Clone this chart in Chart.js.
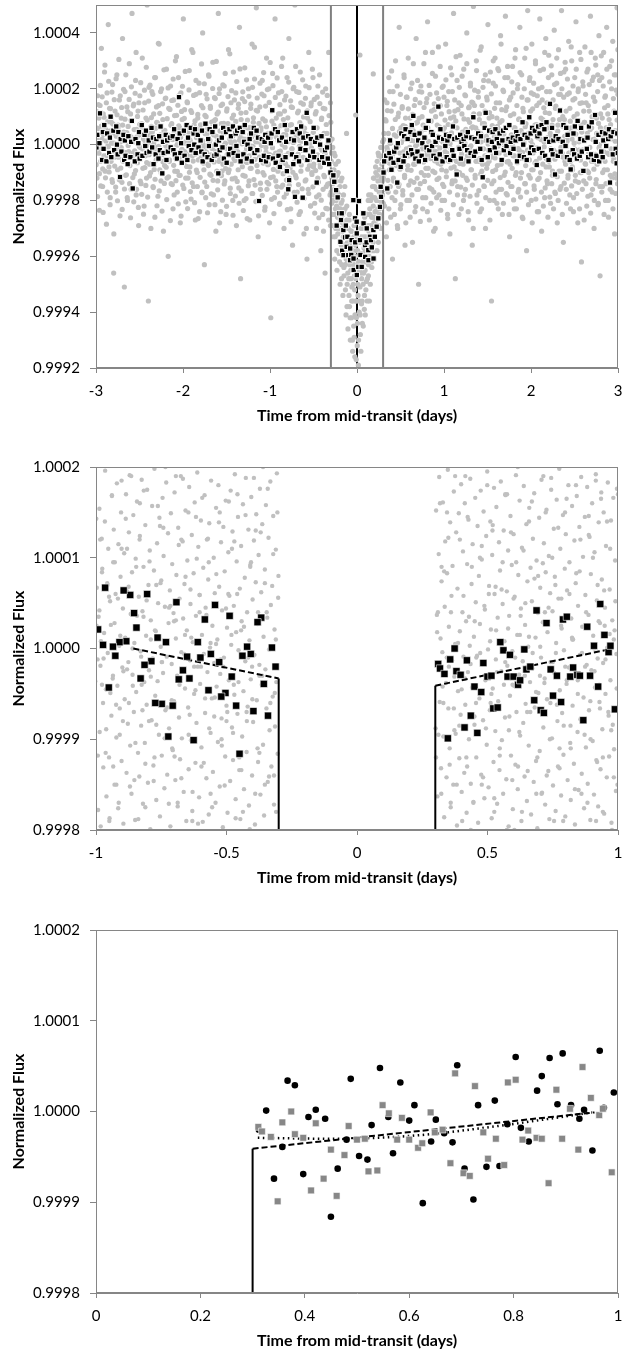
<!DOCTYPE html>
<html lang="en">
<head>
<meta charset="UTF-8">
<title>Transit light curve</title>
<script src="https://cdn.jsdelivr.net/npm/chart.js"></script>
<style>
  body { margin: 0; background: #fff; }
  .painel { position: absolute; left: 0; width: 630px; }
</style>
</head>
<body>
<div class="painel" style="top:0"><canvas id="grafico1" width="630" height="440"></canvas></div>
<div class="painel" style="top:440px"><canvas id="grafico2" width="630" height="450"></canvas></div>
<div class="painel" style="top:890px"><canvas id="grafico3" width="630" height="460"></canvas></div>

<script>
// axis ticks
const xTicks1 = [-3, -2, -1, 0, 1, 2, 3];
const yTicks1 = [0.9992, 0.9994, 0.9996, 0.9998, 1.0000, 1.0002, 1.0004];
const xTicks2 = [-1, -0.5, 0, 0.5, 1];
const xTicks3 = [0, 0.2, 0.4, 0.6, 0.8, 1];
const yTicks23 = [0.9998, 0.9999, 1.0000, 1.0001, 1.0002];

// unbinned flux: [time in 0.001 d, flux offset in ppm]
const rawWide = [
[-2996,60],[-2989,-120],[-2982,175],[-2974,-15],[-2967,95],[-2961,-235],[-2953,140],[-2946,-60],[-2938,345],[-2931,20],[-2924,-150],[-2917,110],[-2909,-40],[-2902,260],[-2895,-95],[-2888,55],[-2880,-285],[-2873,185],[-2866,-5],[-2859,430],[-2851,-80],[-2844,130],[-2837,-190],[-2830,35],[-2823,80],[-2816,-125],[-2809,215],[-2802,-30],[-2797,-460],[-2793,5],
[-2788,-45],[-2781,120],[-2774,-170],[-2767,30],[-2760,250],[-2752,-90],[-2745,70],[-2738,-20],[-2731,160],[-2724,-255],[-2717,10],[-2710,95],[-2702,-135],[-2695,380],[-2688,-60],[-2681,45],[-2674,-510],[-2667,190],[-2660,-110],[-2652,15],[-2645,135],[-2638,-200],[-2631,65],[-2624,-25],[-2617,290],[-2610,-75],[-2603,110],[-2596,-160],[-2590,25],[-2586,470],
[-2580,85],[-2573,-30],[-2566,145],[-2559,-105],[-2552,10],[-2545,230],[-2538,-180],[-2531,55],[-2524,-65],[-2517,120],[-2510,-290],[-2503,35],[-2496,175],[-2489,-10],[-2482,-140],[-2475,75],[-2468,310],[-2461,-85],[-2454,20],[-2447,-220],[-2440,150],[-2433,-40],[-2426,95],[-2419,-120],[-2412,500],[-2405,0],[-2398,-560],[-2391,205],[-2384,-70],[-2378,40],
[-2372,-100],[-2365,65],[-2358,190],[-2351,-25],[-2344,-150],[-2337,110],[-2330,15],[-2323,-260],[-2316,240],[-2309,-55],[-2302,80],[-2295,-10],[-2288,-185],[-2281,140],[-2274,360],[-2267,-90],[-2260,35],[-2253,-130],[-2246,200],[-2239,-35],[-2232,90],[-2225,-310],[-2218,50],[-2211,-75],[-2204,165],[-2197,-5],[-2190,270],[-2183,-120],[-2176,25],[-2170,-400],
[-2164,130],[-2157,-60],[-2150,20],[-2143,210],[-2136,-140],[-2129,75],[-2122,-15],[-2115,-230],[-2108,160],[-2101,40],[-2094,-95],[-2087,300],[-2080,-50],[-2073,105],[-2066,-170],[-2059,5],[-2052,240],[-2045,-110],[-2038,60],[-2031,-280],[-2024,185],[-2017,-20],[-2010,90],[-2003,-145],[-1996,450],[-1989,-65],[-1982,125],[-1975,10],[-1968,-205],[-1962,70],
[-1956,-35],[-1949,150],[-1942,-120],[-1935,45],[-1928,265],[-1921,-80],[-1914,10],[-1907,-195],[-1900,115],[-1893,-40],[-1886,330],[-1879,-150],[-1872,70],[-1865,-20],[-1858,-270],[-1851,180],[-1844,25],[-1837,-100],[-1830,95],[-1823,-55],[-1816,220],[-1809,-240],[-1802,55],[-1795,-10],[-1788,140],[-1781,-170],[-1774,400],[-1767,0],[-1760,-90],[-1754,-430],
[-1748,105],[-1741,-25],[-1734,180],[-1727,-150],[-1720,40],[-1713,-70],[-1706,250],[-1699,-215],[-1692,15],[-1685,130],[-1678,-110],[-1671,60],[-1664,-5],[-1657,295],[-1650,-180],[-1643,85],[-1636,-40],[-1629,165],[-1622,-310],[-1615,30],[-1608,110],[-1601,-130],[-1594,470],[-1587,-60],[-1580,200],[-1573,-20],[-1566,-240],[-1559,75],[-1552,-95],[-1546,145],
[-1540,-70],[-1533,40],[-1526,210],[-1519,-130],[-1512,5],[-1505,-250],[-1498,120],[-1491,-35],[-1484,75],[-1477,340],[-1470,-90],[-1463,20],[-1456,-175],[-1449,150],[-1442,-15],[-1435,95],[-1428,-200],[-1421,260],[-1414,-50],[-1407,10],[-1400,-120],[-1393,185],[-1386,-290],[-1379,55],[-1372,-25],[-1365,130],[-1358,-155],[-1351,420],[-1344,30],[-1338,-480],
[-1332,90],[-1325,-45],[-1318,165],[-1311,-110],[-1304,20],[-1297,-200],[-1290,275],[-1283,-60],[-1276,115],[-1269,-15],[-1262,-265],[-1255,60],[-1248,200],[-1241,-130],[-1234,35],[-1227,-85],[-1220,145],[-1213,-5],[-1206,360],[-1199,-175],[-1192,80],[-1185,-30],[-1178,235],[-1171,-145],[-1164,10],[-1157,490],[-1150,-75],[-1143,120],[-1136,-330],[-1130,50],
[-1124,-20],[-1117,135],[-1110,-160],[-1103,60],[-1096,-50],[-1089,230],[-1082,-100],[-1075,15],[-1068,175],[-1061,-235],[-1054,85],[-1047,-10],[-1040,310],[-1033,-135],[-1026,40],[-1019,-70],[-1012,200],[-1005,-280],[-998,25],[-991,-620],[-984,120],[-977,-40],[-970,255],[-963,-115],[-956,70],[-949,-190],[-942,450],[-935,-30],[-928,95],[-922,-150],
[-916,55],[-909,-95],[-902,185],[-895,-25],[-888,-210],[-881,110],[-874,-60],[-867,280],[-860,0],[-853,-145],[-846,90],[-839,-300],[-832,160],[-825,-40],[-818,35],[-811,-175],[-804,240],[-797,-80],[-790,10],[-783,380],[-776,-120],[-769,70],[-762,-230],[-755,135],[-748,-15],[-741,-360],[-734,200],[-727,-65],[-720,45],[-714,500],
[-708,-110],[-701,30],[-694,190],[-687,-170],[-680,-40],[-673,120],[-666,-250],[-659,15],[-652,260],[-645,-95],[-638,65],[-631,-190],[-624,-20],[-617,145],[-610,-320],[-603,40],[-596,-130],[-589,210],[-582,-55],[-575,-410],[-568,95],[-561,-160],[-554,330],[-547,-75],[-540,5],[-533,-220],[-526,150],[-519,-100],[-512,-20],[-506,240],
[-500,-80],[-493,60],[-486,-210],[-479,110],[-472,-40],[-465,-300],[-458,170],[-451,-120],[-444,20],[-437,-180],[-430,250],[-423,-70],[-416,-380],[-409,90],[-402,-20],[-395,-250],[-388,130],[-381,-110],[-374,-30],[-367,-460],[-360,200],[-353,-150],[-346,40],[-339,-230],[-332,-60],[-325,330],[-318,-140],[-311,10],[-305,-290],[-301,80],
[-295,-60],[-290,-210],[-286,20],[-281,-140],[-277,-290],[-272,-95],[-268,-180],[-263,-30],[-259,-250],[-254,-120],[-250,-330],[-245,-70],[-241,-200],[-236,-160],[-232,-380],[-227,-110],[-223,-260],[-218,-190],[-214,-60],[-209,-300],[-205,-230],[-200,-420],[-196,-150],[-191,-270],[-187,-350],[-182,-210],[-178,-480],[-173,-120],[-169,-310],[-164,-250],
[-160,-390],[-155,-180],[-151,-440],[-146,-290],[-142,-360],[-137,-230],[-133,-520],[-128,-330],[-124,-410],[-119,-270],[-115,-580],[-110,-350],[-106,-460],[-101,-300],[-97,-390],[-92,-540],[-88,-250],[-83,-430],[-79,-620],[-74,-360],[-70,-480],[-65,-310],[-61,-560],[-56,-420],[-52,-700],[-47,-380],[-43,-500],[-38,-650],[-34,-290],[-29,-470],
[-25,-760],[-20,-400],[-16,-560],[-11,-330],[-7,-620],[-2,-450],[3,-720],[7,-380],[12,-540],[16,-790],[21,-420],[25,-600],[30,-350],[34,-510],[39,-680],[43,-300],[48,-460],[52,-570],[57,-390],[61,-640],[66,-280],[70,-500],[75,-420],[79,-330],[84,-590],[88,-260],[93,-450],[97,-380],[102,-520],[106,-300],
[111,-410],[115,-250],[120,-480],[124,-340],[129,-200],[133,-430],[138,-310],[142,-560],[147,-230],[151,-370],[156,-290],[160,-180],[165,-420],[169,-260],[174,-340],[178,-150],[183,-300],[187,-220],[192,-380],[196,-120],[201,-260],[205,-190],[210,-330],[214,-80],[219,-240],[223,-160],[228,-290],[232,-60],[237,-200],[241,-130],
[246,-350],[250,-40],[255,-170],[259,-230],[264,-90],[268,-260],[273,-10],[277,-150],[282,-200],[286,-70],[291,-130],[295,10],[34,321],[-15,106],[187,253],[-120,40],
[303,-120],[310,40],[317,-220],[324,90],[331,-60],[338,-330],[345,150],[352,-20],[359,-170],[366,240],[373,-90],[380,5],[387,-260],[394,120],[401,-45],[408,-410],[415,190],[422,-130],[429,35],[436,-200],[443,300],[450,-75],[457,-10],[464,-290],[471,100],[478,-150],[485,420],[492,-30],[499,-230],[505,60],
[512,-60],[519,130],[526,-180],[533,20],[540,250],[547,-110],[554,65],[561,-280],[568,-15],[575,170],[582,-90],[589,310],[596,-40],[603,-200],[610,95],[617,-130],[624,15],[631,220],[638,-350],[645,50],[652,-70],[659,140],[666,-240],[673,-5],[680,380],[687,-160],[694,80],[701,-30],[708,-500],[714,190],
[720,40],[727,-140],[734,210],[741,-60],[748,100],[755,-230],[762,-5],[769,290],[776,-110],[783,55],[790,-190],[797,150],[804,-35],[811,440],[818,-85],[825,10],[832,-270],[839,180],[846,-50],[853,85],[860,-160],[867,330],[874,-20],[881,-310],[888,125],[895,-100],[902,245],[909,0],[916,-190],[922,70],
[928,-40],[935,165],[942,-120],[949,25],[956,280],[963,-70],[970,110],[977,-200],[984,10],[991,210],[998,-150],[1005,60],[1012,-25],[1019,360],[1026,-95],[1033,140],[1040,-250],[1047,35],[1054,190],[1061,-45],[1068,-320],[1075,95],[1082,-15],[1089,250],[1096,-130],[1103,70],[1110,470],[1117,-80],[1124,120],[1130,-480],
[1136,85],[1143,-60],[1150,230],[1157,-150],[1164,20],[1171,150],[1178,-100],[1185,320],[1192,-20],[1199,-230],[1206,110],[1213,45],[1220,-70],[1227,270],[1234,-180],[1241,5],[1248,175],[1255,-120],[1262,400],[1269,-40],[1276,90],[1283,-270],[1290,135],[1297,-10],[1304,210],[1311,-90],[1318,60],[1325,-360],[1332,150],[1338,495],
[1344,-30],[1351,140],[1358,-110],[1365,60],[1372,300],[1379,-180],[1386,20],[1393,190],[1400,-60],[1407,110],[1414,-240],[1421,40],[1428,350],[1435,-95],[1442,75],[1449,-15],[1456,230],[1463,-150],[1470,120],[1477,-300],[1484,15],[1491,170],[1498,-70],[1505,430],[1512,-20],[1519,95],[1526,-200],[1533,260],[1540,-45],[1546,-560],
[1552,100],[1559,-40],[1566,220],[1573,-130],[1580,30],[1587,310],[1594,-90],[1601,150],[1608,-210],[1615,65],[1622,-5],[1629,265],[1636,-160],[1643,80],[1650,390],[1657,-70],[1664,125],[1671,-250],[1678,40],[1685,190],[1692,-110],[1699,10],[1706,460],[1713,-35],[1720,135],[1727,-180],[1734,240],[1741,-60],[1748,70],[1754,-330],
[1760,-70],[1767,170],[1774,20],[1781,-150],[1788,280],[1795,-40],[1802,110],[1809,-230],[1816,60],[1823,340],[1830,-100],[1837,15],[1844,200],[1851,-170],[1858,90],[1865,-20],[1872,420],[1879,-120],[1886,50],[1893,250],[1900,-260],[1907,130],[1914,-50],[1921,5],[1928,310],[1935,-140],[1942,75],[1949,-380],[1956,160],[1962,480],
[1968,40],[1975,-110],[1982,230],[1989,-30],[1996,120],[2003,-200],[2010,360],[2017,0],[2024,-90],[2031,180],[2038,-160],[2045,70],[2052,290],[2059,-60],[2066,140],[2073,-240],[2080,25],[2087,200],[2094,-120],[2101,450],[2108,-20],[2115,95],[2122,-310],[2129,160],[2136,-70],[2143,270],[2150,10],[2157,-190],[2164,115],[2170,380],
[2176,-50],[2183,150],[2190,-140],[2197,60],[2204,320],[2211,-80],[2218,190],[2225,-210],[2232,30],[2239,250],[2246,-110],[2253,90],[2260,-20],[2267,410],[2274,-170],[2281,130],[2288,-40],[2295,220],[2302,-280],[2309,70],[2316,340],[2323,-95],[2330,15],[2337,180],[2344,-150],[2351,480],[2358,-30],[2365,100],[2372,-350],[2378,260],
[2384,90],[2391,-60],[2398,270],[2405,-160],[2412,20],[2419,180],[2426,-110],[2433,370],[2440,-30],[2447,130],[2454,-230],[2461,60],[2468,300],[2475,-80],[2482,160],[2489,-190],[2496,5],[2503,240],[2510,-130],[2517,440],[2524,-50],[2531,110],[2538,-280],[2545,200],[2552,-20],[2559,330],[2566,-100],[2573,70],[2580,-420],[2586,150],
[2592,-20],[2599,210],[2606,-130],[2613,80],[2620,350],[2627,-70],[2634,150],[2641,-220],[2648,40],[2655,270],[2662,-100],[2669,120],[2676,-10],[2683,460],[2690,-180],[2697,60],[2704,230],[2711,-60],[2718,170],[2725,-300],[2732,20],[2739,310],[2746,-140],[2753,95],[2760,-40],[2767,250],[2774,-210],[2781,390],[2788,0],[2794,-470],
[2800,110],[2807,-50],[2814,240],[2821,-150],[2828,30],[2835,330],[2842,-90],[2849,170],[2856,-200],[2863,60],[2870,420],[2877,-30],[2884,140],[2891,-260],[2898,90],[2905,280],[2912,-110],[2919,20],[2926,200],[2933,-170],[2940,370],[2947,-60],[2954,120],[2961,-320],[2968,50],[2975,250],[2982,-120],[2989,490],[2996,-10],[2999,180]
];

// second set of unbinned flux (same units)
const rawWideB = [
[-2998,-72],[-2993,118],[-2987,24],[-2982,-186],[-2977,57],[-2971,143],[-2966,-31],[-2961,-104],[-2955,9],[-2950,212],
[-2945,-148],[-2939,66],[-2934,-14],[-2929,171],[-2923,-87],[-2918,-243],[-2913,36],[-2907,98],[-2902,-52],[-2897,285],
[-2891,-119],[-2886,13],[-2881,150],[-2875,-39],[-2870,-170],[-2865,82],[-2859,-8],[-2854,227],[-2849,-98],[-2843,48],
[-2838,-215],[-2833,129],[-2827,-60],[-2822,5],[-2817,188],[-2811,-135],[-2806,74],[-2801,-27],[-2795,-320],[-2790,161],
[-2785,-77],[-2779,40],[-2774,-152],[-2769,236],[-2763,-18],[-2758,107],[-2753,-201],[-2747,60],[-2742,-45],[-2737,305],
[-2731,-126],[-2726,22],[-2721,175],[-2715,-84],[-2710,-11],[-2705,133],[-2699,-232],[-2694,70],[-2689,-58],[-2683,198],
[-2678,15],[-2673,-159],[-2667,91],[-2662,-29],[-2657,250],[-2651,-108],[-2646,43],[-2641,-190],[-2635,118],[-2630,-3],
[-2625,-71],[-2619,162],[-2614,-140],[-2609,31],[-2603,-262],[-2598,86],[-2593,207],[-2587,-46],[-2582,12],[-2577,-118],
[-2571,139],[-2566,-205],[-2561,54],[-2555,-22],[-2550,184],[-2545,-93],[-2539,330],[-2534,-160],[-2529,28],[-2523,101],
[-2518,-56],[-2513,-225],[-2507,150],[-2502,-7],[-2497,73],[-2491,-131],[-2486,222],[-2481,-40],[-2475,-178],[-2470,62],
[-2465,-15],[-2459,124],[-2454,-249],[-2449,38],[-2443,195],[-2438,-82],[-2433,10],[-2427,-146],[-2422,277],[-2417,-64],
[-2411,88],[-2406,-188],[-2401,25],[-2395,156],[-2390,-36],[-2385,-112],[-2379,213],[-2374,-4],[-2369,-300],[-2363,97],
[-2358,-68],[-2353,45],[-2347,180],[-2342,-154],[-2337,2],[-2331,-89],[-2326,240],[-2321,-124],[-2315,59],[-2310,-19],
[-2305,135],[-2299,-219],[-2294,78],[-2289,-50],[-2283,363],[-2278,-6],[-2273,-166],[-2267,112],[-2262,-35],[-2257,190],
[-2251,-102],[-2246,20],[-2241,-238],[-2235,146],[-2230,-61],[-2225,7],[-2219,268],[-2214,-139],[-2209,51],[-2203,-26],
[-2198,167],[-2193,-81],[-2187,-197],[-2182,93],[-2177,-12],[-2171,203],[-2166,-115],[-2161,33],[-2155,-55],[-2150,126],
[-2145,-272],[-2139,69],[-2134,-9],[-2129,158],[-2123,-143],[-2118,18],[-2113,235],[-2107,-74],[-2102,-180],[-2097,104],
[-2091,-33],[-2086,56],[-2081,-129],[-2075,315],[-2070,-2],[-2065,-96],[-2059,141],[-2054,-212],[-2049,67],[-2043,-48],
[-2038,178],[-2033,-110],[-2027,26],[-2022,-256],[-2017,119],[-2011,-17],[-2006,209],[-2001,-63],[-1995,41],[-1990,-157],
[-1985,94],[-1979,-25],[-1974,262],[-1969,-120],[-1963,4],[-1958,-78],[-1953,153],[-1947,-229],[-1942,63],[-1937,-42],
[-1931,196],[-1926,-99],[-1921,17],[-1915,-168],[-1910,122],[-1905,-13],[-1899,340],[-1894,-137],[-1889,47],[-1883,-59],
[-1878,176],[-1873,-1],[-1867,-208],[-1862,85],[-1857,-34],[-1851,230],[-1846,-91],[-1841,29],[-1835,-150],[-1830,108],
[-1825,-265],[-1819,52],[-1814,-20],[-1809,186],[-1803,-117],[-1798,71],[-1793,-47],[-1787,289],[-1782,-172],[-1777,14],
[-1771,132],[-1766,-66],[-1761,-8],[-1755,218],[-1750,-134],[-1745,39],[-1739,-190],[-1734,100],[-1729,-28],[-1723,164],
[-1718,-244],[-1713,58],[-1707,-75],[-1702,245],[-1697,6],[-1691,-106],[-1686,137],[-1681,-37],[-1675,-176],[-1670,81],
[-1665,-14],[-1659,201],[-1654,-128],[-1649,35],[-1643,-62],[-1638,168],[-1633,-215],[-1627,90],[-1622,-24],[-1617,298],
[-1611,-95],[-1606,11],[-1601,-162],[-1595,116],[-1590,-43],[-1585,183],[-1579,-280],[-1574,49],[-1569,-10],[-1563,140],
[-1558,-111],[-1553,23],[-1547,-199],[-1542,214],[-1537,-52],[-1531,76],[-1526,-141],[-1521,1],[-1515,255],[-1510,-86],
[-1505,44],[-1499,-221],[-1494,128],[-1489,-16],[-1483,172],[-1478,-100],[-1473,61],[-1467,-38],[-1462,325],[-1457,-156],
[-1451,8],[-1446,-70],[-1441,193],[-1435,-123],[-1430,30],[-1425,-253],[-1419,106],[-1414,-5],[-1409,160],[-1403,-57],
[-1398,-184],[-1393,83],[-1387,-21],[-1382,226],[-1377,-132],[-1371,46],[-1366,-90],[-1361,145],[-1355,-210],[-1350,16],
[-1345,271],[-1339,-44],[-1334,113],[-1329,-166],[-1323,3],[-1318,-79],[-1313,189],[-1307,-236],[-1302,55],[-1297,-30],
[-1291,154],[-1286,-113],[-1281,19],[-1275,-193],[-1270,232],[-1265,-64],[-1259,88],[-1254,-12],[-1249,-147],[-1243,173],
[-1238,-40],[-1233,-270],[-1227,62],[-1222,130],[-1217,-85],[-1211,27],[-1206,-175],[-1201,205],[-1195,-7],[-1190,96],
[-1185,-125],[-1179,349],[-1174,-53],[-1169,37],[-1163,-204],[-1158,123],[-1153,-19],[-1147,167],[-1142,-97],[-1137,10],
[-1131,-255],[-1126,76],[-1121,-45],[-1115,220],[-1110,-138],[-1105,50],[-1099,-3],[-1094,181],[-1089,-182],[-1083,92],
[-1078,-66],[-1073,258],[-1067,-109],[-1062,21],[-1057,-224],[-1051,138],[-1046,-27],[-1041,64],[-1035,-160],[-1030,197],
[-1025,-72],[-1019,5],[-1014,-141],[-1009,151],[-1003,-36],[-998,294],[-993,-118],[-987,42],[-982,-196],[-977,84],
[-971,-11],[-966,211],[-961,-89],[-955,-247],[-950,57],[-945,-49],[-939,169],[-934,-130],[-929,28],[-923,-62],
[-918,239],[-913,-170],[-907,14],[-902,110],[-897,-80],[-891,-214],[-886,143],[-881,-23],[-875,68],[-870,-152],
[-865,190],[-859,-41],[-854,310],[-849,-104],[-843,36],[-838,-188],[-833,120],[-827,-9],[-822,-68],[-817,174],
[-811,-127],[-806,53],[-801,-233],[-795,96],[-790,-31],[-785,224],[-779,-146],[-774,20],[-769,-84],[-763,157],
[-758,-276],[-753,72],[-747,-15],[-742,133],[-737,-99],[-731,8],[-726,205],[-721,-171],[-715,47],[-710,-57],
[-705,280],[-699,-119],[-694,31],[-689,-206],[-683,114],[-678,-34],[-673,-143],[-667,187],[-662,-6],[-657,79],
[-651,-240],[-646,150],[-641,-73],[-635,12],[-630,-158],[-625,232],[-619,-46],[-614,99],[-609,-193],[-603,59],
[-598,-20],[-593,166],[-587,-126],[-582,-300],[-577,37],[-571,121],[-566,-88],[-561,6],[-555,-175],[-550,204],
[-545,-54],[-539,82],[-534,-219],[-529,139],[-523,-12],[-518,-107],[-513,270],[-507,-151],[-502,44],[-497,-70],
[-491,162],[-486,-245],[-481,15],[-475,-93],[-470,118],[-465,-187],[-459,60],[-454,-37],[-449,210],[-443,-134],
[-438,-262],[-433,24],[-427,147],[-422,-80],[-417,-10],[-411,-199],[-406,95],[-401,-56],[-395,188],[-390,-160],
[-385,-310],[-379,40],[-374,-115],[-369,128],[-363,-30],[-358,-228],[-353,72],[-347,-66],[-342,176],[-337,-141],
[-331,2],[-326,-270],[-321,104],[-315,-49],[-310,-180],[-305,150],
[-298,-170],[-292,-30],[-288,-120],[-283,-250],[-279,-10],[-274,-200],[-270,-330],[-265,-90],[-261,-160],[-256,-410],
[-252,-40],[-248,-230],[-243,-300],[-239,-130],[-234,-220],[-230,-450],[-225,-170],[-221,-320],[-216,-100],[-212,-260],
[-207,-390],[-203,-180],[-198,-300],[-194,-500],[-189,-230],[-185,-130],[-180,-360],[-176,-430],[-171,-200],[-167,-280],
[-162,-540],[-158,-330],[-153,-240],[-149,-470],[-144,-390],[-140,-150],[-135,-430],[-131,-300],[-126,-610],[-122,-370],
[-117,-220],[-113,-500],[-108,-420],[-104,-660],[-99,-330],[-95,-480],[-90,-270],[-86,-580],[-81,-390],[-77,-700],
[-72,-450],[-68,-310],[-63,-620],[-59,-510],[-54,-390],[-50,-740],[-45,-560],[-41,-430],[-36,-330],[-32,-690],
[-27,-520],[-23,-610],[-18,-360],[-14,-480],[-9,-770],[-5,-560],[0,-380],[5,-640],[9,-500],[14,-420],
[18,-700],[23,-350],[27,-560],[32,-450],[36,-610],[41,-390],[45,-740],[50,-330],[54,-480],[59,-560],
[63,-420],[68,-300],[72,-650],[77,-460],[81,-370],[86,-540],[90,-290],[95,-610],[99,-420],[104,-330],
[108,-490],[113,-250],[117,-560],[122,-380],[126,-290],[131,-470],[135,-180],[140,-400],[144,-330],[149,-250],
[153,-500],[158,-200],[162,-380],[167,-300],[171,-440],[176,-190],[180,-260],[185,-350],[189,-120],[194,-280],
[198,-410],[203,-150],[207,-240],[212,-330],[216,-100],[221,-270],[225,-200],[230,-380],[234,-110],[239,-230],
[243,-30],[248,-290],[252,-160],[257,-90],[261,-250],[266,-170],[270,-40],[275,-300],[279,-120],[284,-210],
[288,-50],[293,-180],[297,-110],
[302,-210],[307,18],[312,-95],[318,160],[323,-160],[328,-42],[334,85],[339,-280],[344,-10],[350,122],
[355,-128],[360,40],[366,-230],[371,-66],[376,190],[382,-150],[387,6],[392,-85],[398,264],[403,-190],
[408,58],[414,-33],[419,-120],[424,145],[430,-250],[435,-17],[440,90],[446,-170],[451,30],[456,-60],
[462,210],[467,-300],[472,-5],[478,113],[483,-142],[488,47],[494,-88],[499,180],[504,-215],[510,8],
[515,-50],[520,136],[526,-165],[531,68],[536,-26],[542,240],[547,-118],[552,-360],[558,95],[563,-40],
[568,170],[574,-200],[579,22],[584,-75],[590,128],[595,-145],[600,55],[606,-10],[611,-260],[616,200],
[622,-92],[627,36],[632,-180],[638,108],[643,-30],[648,290],[654,-135],[659,13],[664,-70],[670,162],
[675,-222],[680,77],[686,-48],[691,-120],[696,230],[702,2],[707,-160],[712,94],[718,-38],[723,150],
[728,-275],[734,45],[739,-100],[744,188],[750,-15],[755,-190],[760,70],[766,-62],[771,133],[776,-132],
[782,25],[787,330],[792,-85],[798,-20],[803,165],[808,-240],[814,60],[819,-110],[824,12],[830,212],
[835,-155],[840,83],[846,-35],[851,-210],[856,120],[862,-5],[867,255],[872,-95],[878,40],[883,-170],
[888,146],[894,-58],[899,-300],[904,100],[910,-25],[915,185],[920,-125],[926,30],[931,-66],[936,350],
[942,-180],[947,64],[952,-12],[958,140],[963,-235],[968,16],[974,-90],[979,205],[984,-142],[990,52],
[995,-44],[1000,170],[1006,-200],[1011,88],[1016,-8],[1022,232],[1027,-115],[1032,-30],[1038,155],[1043,-265],
[1048,72],[1054,-60],[1059,118],[1064,-170],[1070,4],[1075,275],[1080,-84],[1086,42],[1091,-140],[1096,190],
[1102,-22],[1107,-215],[1112,99],[1118,-50],[1123,160],[1128,-130],[1134,20],[1139,315],[1144,-95],[1150,60],
[1155,-180],[1160,125],[1166,-10],[1171,-250],[1176,205],[1182,-68],[1187,36],[1192,-152],[1198,140],[1203,-35],
[1208,245],[1214,-110],[1219,8],[1224,-200],[1230,92],[1235,-56],[1240,178],[1246,-160],[1251,55],[1256,-14],
[1262,290],[1267,-128],[1272,28],[1278,-240],[1283,132],[1288,-42],[1294,80],[1299,-185],[1304,220],[1310,-4],
[1315,-90],[1320,152],[1326,-145],[1331,64],[1336,-300],[1342,110],[1347,-30],[1352,195],[1358,-120],[1363,15],
[1368,-60],[1374,265],[1379,-210],[1384,48],[1390,-20],[1395,170],[1400,-165],[1406,90],[1411,-50],[1416,338],
[1422,-105],[1427,10],[1432,-230],[1438,140],[1443,-70],[1448,205],[1454,-15],[1459,-148],[1464,75],[1470,-40],
[1475,250],[1480,-190],[1486,30],[1491,-85],[1496,160],[1502,-128],[1507,2],[1512,228],[1518,-60],[1523,115],
[1528,-270],[1534,45],[1539,-22],[1544,182],[1550,-140],[1555,68],[1560,-96],[1566,300],[1571,-10],[1576,-200],
[1582,130],[1587,-48],[1592,210],[1598,-170],[1603,20],[1608,95],[1614,-75],[1619,272],[1624,-230],[1630,56],
[1635,-30],[1640,150],[1646,-118],[1651,6],[1656,360],[1662,-160],[1667,86],[1672,-55],[1678,195],[1683,-210],
[1688,38],[1694,-12],[1699,240],[1704,-98],[1710,122],[1715,-175],[1720,15],[1726,-62],[1731,280],[1736,-135],
[1742,70],[1747,-250],[1752,160],[1758,-25],[1763,104],[1768,-150],[1774,35],[1779,225],[1784,-85],[1790,-5],
[1795,185],[1800,-198],[1806,60],[1811,-40],[1816,310],[1822,-110],[1827,20],[1832,-230],[1838,140],[1843,-65],
[1848,215],[1854,-14],[1859,-160],[1864,92],[1870,-50],[1875,258],[1880,-188],[1886,44],[1891,-100],[1896,170],
[1902,-28],[1907,-265],[1912,118],[1918,8],[1923,200],[1928,-140],[1934,64],[1939,-75],[1944,345],[1950,-170],
[1955,30],[1960,-20],[1966,160],[1971,-215],[1976,96],[1982,-55],[1987,240],[1992,-120],[1998,14],[2003,185],
[2008,-90],[2014,-280],[2019,128],[2024,-30],[2030,220],[2035,-148],[2040,50],[2046,-66],[2051,300],[2056,-195],
[2062,72],[2067,-12],[2072,175],[2078,-125],[2083,36],[2088,-240],[2094,150],[2099,-48],[2104,265],[2110,-100],
[2115,18],[2120,-170],[2126,205],[2131,-35],[2136,90],[2142,-220],[2147,132],[2152,-8],[2158,330],[2163,-155],
[2168,58],[2174,-80],[2179,190],[2184,-130],[2190,25],[2195,-260],[2200,240],[2206,-60],[2211,112],[2216,-188],
[2222,40],[2227,-15],[2232,282],[2238,-140],[2243,70],[2248,-95],[2254,160],[2259,-230],[2264,20],[2270,215],
[2275,-52],[2280,-175],[2286,138],[2291,-28],[2296,310],[2302,-115],[2307,48],[2312,-200],[2318,180],[2323,-40],
[2328,90],[2334,-160],[2339,255],[2344,-10],[2350,-95],[2355,200],[2360,-250],[2366,66],[2371,-45],[2376,170],
[2382,-138],[2387,30],[2392,295],[2398,-70],[2403,120],[2408,-210],[2414,12],[2419,235],[2424,-120],[2430,55],
[2435,-30],[2440,185],[2446,-180],[2451,84],[2456,-60],[2462,350],[2467,-148],[2472,20],[2478,-90],[2483,210],
[2488,-240],[2494,100],[2499,-15],[2504,165],[2510,-110],[2515,38],[2520,270],[2526,-175],[2531,62],[2536,-40],
[2542,190],[2547,-135],[2552,10],[2558,-230],[2563,148],[2568,-55],[2574,305],[2579,-100],[2584,45],[2590,-160],
[2595,225],[2600,-20],[2606,120],[2611,-270],[2616,80],[2622,-68],[2627,180],[2632,-140],[2638,28],[2643,260],
[2648,-95],[2654,-185],[2659,140],[2664,-30],[2670,215],[2675,-120],[2680,54],[2686,-245],[2691,330],[2696,-60],
[2702,100],[2707,-160],[2712,18],[2718,242],[2723,-88],[2728,-200],[2734,155],[2739,-35],[2744,285],[2750,-125],
[2755,40],[2760,-70],[2766,190],[2771,-215],[2776,76],[2782,-12],[2787,230],[2792,-150],[2798,60],[2803,-45],
[2808,318],[2814,-170],[2819,95],[2824,-100],[2830,210],[2835,-25],[2840,-250],[2846,132],[2851,-60],[2856,175],
[2862,-140],[2867,20],[2872,270],[2878,-90],[2883,110],[2888,-200],[2894,48],[2899,-35],[2904,225],[2910,-160],
[2915,72],[2920,-15],[2926,300],[2931,-120],[2936,36],[2942,-230],[2947,165],[2952,-50],[2958,250],[2963,-105],
[2968,12],[2974,-175],[2979,195],[2984,-65],[2990,88],[2995,-140],[2999,340]
];

// extra unbinned flux shown only in the zoomed middle panel (same units)
const rawZoom = [
[-999,143],[-997,67],[-994,-12],[-992,-178],[-990,35],[-987,154],[-986,-92],[-983,-19],[-981,8],[-978,121],
[-976,88],[-973,-60],[-972,-131],[-969,17],[-966,140],[-965,196],[-962,-45],[-960,-163],[-957,72],[-955,-5],
[-953,110],[-950,-120],[-948,-187],[-946,52],[-943,26],[-941,-74],[-939,168],[-936,-33],[-934,95],[-932,131],
[-929,-150],[-927,-8],[-925,60],[-922,-98],[-920,182],[-918,-41],[-915,-176],[-914,115],[-911,3],[-909,-66],
[-906,79],[-904,150],[-902,-124],[-899,-21],[-897,44],[-895,-193],[-892,105],[-890,-56],[-888,12],[-885,170],
[-883,-137],[-881,63],[-878,-83],[-876,-15],[-874,128],[-871,191],[-869,-107],[-867,38],[-864,-160],[-862,84],
[-860,-29],[-857,147],[-855,-70],[-853,6],[-850,-189],[-848,99],[-846,-48],[-843,162],[-841,22],[-839,-115],
[-836,57],[-834,-141],[-832,124],[-829,-3],[-827,-85],[-825,186],[-822,41],[-820,-171],[-818,90],[-815,-37],
[-813,-104],[-811,136],[-808,14],[-806,-62],[-804,175],[-801,-148],[-799,70],[-797,-24],[-794,108],[-792,-199],
[-790,31],[-787,-79],[-785,157],[-783,-11],[-780,-129],[-778,86],[-776,198],[-773,-52],[-771,19],[-769,-167],
[-766,116],[-764,-36],[-762,50],[-759,-95],[-757,144],[-755,-185],[-752,2],[-750,75],[-748,-118],[-745,166],
[-743,-27],[-741,102],[-738,-154],[-736,46],[-734,-68],[-731,183],[-729,-9],[-727,-139],[-724,127],[-722,28],
[-720,-88],[-717,64],[-715,-196],[-713,149],[-710,-17],[-708,93],[-706,-112],[-703,39],[-701,-58],[-699,172],
[-696,-145],[-694,11],[-692,81],[-689,-30],[-687,-174],[-685,133],[-682,-76],[-680,55],[-678,-122],[-675,190],
[-673,-4],[-671,-99],[-668,118],[-666,33],[-664,-158],[-661,71],[-659,-44],[-657,152],[-654,-190],[-652,20],
[-650,97],[-647,-65],[-645,-133],[-643,178],[-640,-13],[-638,49],[-636,-101],[-633,125],[-631,-179],[-629,7],
[-626,83],[-624,-50],[-622,161],[-619,-126],[-617,36],[-615,-82],[-612,194],[-610,-20],[-608,112],[-605,-164],
[-603,59],[-601,-39],[-598,141],[-596,-109],[-594,15],[-591,-191],[-589,89],[-587,-6],[-584,169],[-582,-71],
[-580,45],[-577,-143],[-575,120],[-573,-26],[-570,76],[-568,-183],[-566,138],[-563,1],[-561,-93],[-559,185],
[-556,-55],[-554,25],[-552,-136],[-549,100],[-547,-16],[-545,61],[-542,-170],[-540,155],[-538,-42],[-535,10],
[-533,-103],[-531,180],[-528,68],[-526,-152],[-524,-28],[-521,117],[-519,-77],[-517,42],[-514,-197],[-512,134],
[-510,-10],[-507,85],[-505,-119],[-503,163],[-500,-63],[-498,23],[-496,-181],[-493,106],[-491,-35],[-489,58],
[-486,-146],[-484,174],[-482,4],[-479,-87],[-477,129],[-475,-123],[-472,47],[-470,-51],[-468,192],[-465,-166],
[-463,18],[-461,96],[-458,-72],[-456,145],[-454,-2],[-451,-134],[-449,66],[-447,-188],[-444,113],[-442,30],
[-440,-97],[-437,159],[-435,-47],[-433,-155],[-430,78],[-428,-14],[-426,188],[-423,-114],[-421,40],[-419,-64],
[-416,131],[-414,-173],[-412,9],[-409,92],[-407,-34],[-405,167],[-402,-140],[-400,54],[-398,-81],[-395,119],
[-393,-7],[-391,-194],[-388,73],[-386,148],[-384,-57],[-381,27],[-379,-125],[-377,103],[-374,-18],[-372,176],
[-370,-161],[-367,62],[-365,-40],[-363,137],[-360,-106],[-358,13],[-356,-184],[-353,87],[-351,-23],[-349,158],
[-346,-75],[-344,34],[-342,-147],[-339,122],[-337,-1],[-335,-90],[-332,184],[-330,48],[-328,-130],[-325,69],
[-323,-53],[-321,146],[-318,-172],[-316,21],[-314,-86],[-311,109],[-309,-37],[-307,193],[-304,-116],[-302,56],
[301,-88],[303,152],[306,37],[308,-163],[310,-20],[313,104],[315,189],[317,-59],[320,11],[322,-132],
[324,74],[327,-4],[329,161],[331,-97],[334,-186],[336,46],[338,118],[341,-38],[343,-142],[345,83],
[348,197],[350,-66],[352,24],[355,-110],[357,139],[359,-175],[362,58],[364,-13],[366,91],[369,-150],
[371,173],[373,-31],[376,5],[378,-94],[380,128],[383,-195],[385,66],[387,-47],[390,149],[392,-121],
[394,19],[397,-73],[399,181],[401,-158],[404,40],[406,107],[408,-9],[411,-137],[413,160],[415,-62],
[418,30],[420,-181],[422,93],[425,-26],[427,142],[429,-100],[432,3],[434,187],[436,-149],[439,71],
[441,-43],[443,115],[446,-169],[448,13],[450,-84],[453,166],[455,51],[457,-120],[460,-8],[462,135],
[464,-192],[467,80],[469,-55],[471,27],[474,174],[476,-139],[478,98],[481,-17],[483,-79],[485,151],
[488,-165],[490,43],[492,-35],[495,124],[497,-106],[499,195],[502,-1],[504,-153],[506,69],[509,-68],
[511,140],[513,21],[516,-187],[518,103],[520,-44],[523,-125],[525,177],[527,60],[530,-91],[532,-12],
[534,156],[537,-171],[539,34],[541,-58],[544,117],[546,-134],[548,86],[551,184],[553,-25],[555,-101],
[558,49],[560,-160],[562,130],[565,8],[567,-76],[569,169],[572,-144],[574,63],[576,-19],[579,108],
[581,-196],[583,36],[586,-52],[588,146],[590,-118],[593,92],[595,-3],[597,-177],[600,126],[602,-41],
[604,57],[607,-128],[609,191],[611,-70],[614,15],[616,-155],[618,81],[621,-29],[623,163],[625,-96],
[628,44],[630,-190],[632,111],[635,-14],[637,-82],[639,179],[642,-141],[644,26],[646,-61],[649,137],
[651,-168],[653,74],[656,2],[658,-107],[660,155],[663,-37],[665,89],[667,-183],[670,52],[672,-22],
[674,121],[677,-147],[679,171],[681,-65],[684,12],[686,-124],[688,97],[691,-198],[693,39],[695,-49],
[698,144],[700,-113],[702,67],[705,-10],[707,186],[709,-159],[712,29],[714,-87],[716,116],[719,-33],
[721,-172],[723,84],[726,153],[728,-56],[730,18],[733,-135],[735,102],[737,-188],[740,61],[742,-15],
[744,175],[747,-99],[749,41],[751,-151],[754,132],[756,-27],[758,79],[761,-179],[763,6],[765,164],
[768,-80],[770,-130],[772,55],[775,198],[777,-46],[779,110],[782,-162],[784,22],[786,-71],[789,147],
[791,-117],[793,-2],[796,88],[798,-185],[800,126],[803,-39],[805,64],[807,-145],[810,180],[812,-21],
[814,95],[817,-104],[819,-167],[821,33],[824,157],[826,-63],[828,10],[831,-127],[833,119],[835,-194],
[838,72],[840,-30],[842,168],[845,-92],[847,47],[849,-156],[852,134],[854,-7],[856,-78],[859,189],
[861,-138],[863,24],[866,101],[868,-54],[870,-176],[873,145],[875,59],[877,-109],[880,-18],[882,178],
[884,-149],[887,37],[889,-68],[891,123],[894,-189],[896,82],[898,-24],[901,160],[903,-102],[905,14],
[908,-161],[910,106],[912,-43],[915,192],[917,-123],[919,53],[922,-11],[924,-174],[926,139],[929,-59],
[931,28],[933,-133],[936,172],[938,76],[940,-89],[943,-16],[945,150],[947,-182],[950,45],[952,-50],
[954,113],[957,-142],[959,1],[961,183],[964,-74],[966,-119],[968,65],[971,-35],[973,141],[975,-192],
[978,31],[980,-84],[982,166],[985,-111],[987,20],[989,97],[992,-157],[994,-6],[996,176],[999,-66]
];

// binned flux, top panel: [time in 0.001 d, flux offset in ppm]
const binWide = [
[-2995,-10],[-2985,35],[-2960,5],[-2954,112],[-2930,-55],[-2921,45],
[-2913,-15],[-2905,70],[-2880,-60],[-2872,40],[-2848,-30],[-2840,25],
[-2832,100],[-2824,-45],[-2800,50],[-2791,-20],[-2767,65],[-2759,0],
[-2751,-35],[-2743,45],[-2724,-116],[-2716,20],[-2708,-25],[-2684,35],[-2676,-55],
[-2668,15],[-2660,-40],[-2636,-70],[-2628,30],[-2604,-45],[-2596,10],
[-2588,85],[-2578,-157],[-2554,-60],[-2546,20],[-2522,-35],[-2514,5],
[-2506,45],[-2498,-50],[-2474,70],[-2466,-40],[-2442,35],[-2434,-5],
[-2426,50],[-2418,-30],[-2394,15],[-2386,-25],[-2362,60],[-2354,-10],
[-2346,25],[-2338,-70],[-2314,-35],[-2306,20],[-2282,-50],[-2274,30],
[-2266,-20],[-2258,65],[-2238,-103],[-2230,10],[-2222,-30],[-2198,35],[-2190,-55],
[-2182,15],[-2174,-25],[-2150,25],[-2142,-10],[-2118,30],[-2110,-20],
[-2102,55],[-2094,-35],[-2070,-50],[-2062,20],[-2046,170],[-2038,40],[-2030,-30],
[-2022,5],[-2014,-65],[-1990,50],[-1982,-40],[-1958,70],[-1950,-55],
[-1942,25],[-1934,-5],[-1910,60],[-1902,-20],[-1878,40],[-1870,0],
[-1862,55],[-1854,-30],[-1830,35],[-1822,-10],[-1798,15],[-1790,-25],
[-1782,50],[-1774,-60],[-1750,-35],[-1742,75],[-1718,-45],[-1710,20],
[-1702,-5],[-1694,55],[-1670,-55],[-1662,45],[-1638,-40],[-1630,65],
[-1622,0],[-1614,-35],[-1594,-103],[-1586,15],[-1578,-20],[-1554,25],[-1546,-10],
[-1538,60],[-1530,-50],[-1506,45],[-1498,-65],[-1474,-35],[-1466,55],
[-1458,-15],[-1450,30],[-1426,65],[-1418,-30],[-1394,40],[-1386,-5],
[-1378,50],[-1370,-40],[-1346,60],[-1338,-60],[-1314,45],[-1306,-35],
[-1298,10],[-1290,70],[-1266,-50],[-1258,0],[-1234,20],[-1226,-15],
[-1218,40],[-1210,-60],[-1186,60],[-1178,-30],[-1154,50],[-1146,-20],
[-1138,25],[-1126,-202],[-1102,-55],[-1094,20],[-1070,-40],[-1062,10],
[-1054,35],[-1046,-60],[-1022,25],[-1014,-45],[-990,5],[-982,40],
[-974,123],[-966,-50],[-942,55],[-934,-65],[-910,45],[-902,-40],
[-894,15],[-886,-80],[-862,25],[-854,-55],[-830,70],[-822,-45],
[-814,10],[-806,-95],[-790,-160],[-780,-127],[-756,20],[-748,-35],[-740,45],
[-732,-70],[-724,15],[-713,-187],[-698,-45],[-690,55],[-666,-60],[-658,40],
[-650,-15],[-642,65],[-624,-190],[-616,25],[-592,-20],[-584,5],[-578,114],
[-570,-55],[-562,30],[-538,-40],[-530,20],[-506,-25],[-498,60],
[-490,-45],[-482,10],[-463,-136],[-456,25],[-432,-55],[-424,0],
[-408,30],[-400,-45],[-376,-65],[-368,-20],[-344,-10],[-336,-50],
[-328,15],[-320,-70],[-305,-100],
[-272,-110],[-261,-133],[-240,-163],[-234,-290],[-222,-189],[-203,-246],[-190,-348],[-184,-270],[-176,-246],[-170,-380],
[-157,-306],[-155,-396],[-138,-332],[-128,-290],[-119,-366],[-110,-330],[-100,-396],[-80,-414],[-78,-372],[-66,-395],
[-61,-342],[-42,-199],[-40,-408],[-38,-449],[-23,-264],[-20,-350],[-4,-276],[-3,-318],[-2,-467],[15,-438],
[23,-202],[34,-342],[40,-395],[54,-438],[73,-246],[75,-282],[92,-360],[94,-402],[110,-350],[112,-300],
[130,-378],[132,-414],[149,-330],[161,-342],[170,-368],[188,-306],[190,-408],[205,-330],[226,-294],[245,-264],
[264,-223],[272,-151],[276,-187],
[305,-100],[312,-60],[336,-40],[348,-157],[372,-30],[380,15],
[388,-50],[396,-90],[420,-65],[428,-25],[452,-10],[463,-136],
[470,5],[478,-55],[502,-80],[510,40],[534,-60],[542,30],
[550,-40],[558,55],[582,20],[590,-30],[614,45],[622,-20],
[630,70],[638,-35],[647,103],[663,35],[671,-50],[695,-25],[703,15],
[711,-60],[719,40],[743,-40],[751,5],[775,25],[783,-55],
[791,60],[799,-10],[823,85],[831,-20],[855,45],[863,-5],
[871,35],[879,-40],[903,10],[911,-50],[935,136],[943,25],
[951,-35],[959,55],[983,-60],[991,20],[1015,-5],[1023,35],
[1031,-45],[1039,15],[1063,30],[1071,-55],[1095,-20],[1103,65],
[1111,-40],[1119,20],[1146,-107],[1154,25],[1178,-15],[1186,35],
[1194,-50],[1202,10],[1226,20],[1234,-5],[1258,30],[1266,-20],
[1274,45],[1282,-60],[1306,-30],[1314,25],[1337,98],[1345,-40],
[1353,20],[1361,-25],[1385,10],[1393,40],[1417,-15],[1425,30],
[1433,-55],[1445,-117],[1468,60],[1479,114],[1503,-45],[1511,15],
[1519,50],[1527,-20],[1551,10],[1559,45],[1583,-10],[1591,55],
[1599,-30],[1607,20],[1631,5],[1639,40],[1663,-55],[1671,15],
[1679,50],[1687,-20],[1711,60],[1719,-5],[1743,20],[1751,70],
[1759,-30],[1767,10],[1791,25],[1799,-15],[1823,15],[1831,45],
[1839,-60],[1847,30],[1871,-40],[1879,20],[1903,80],[1911,0],
[1919,-45],[1927,35],[1951,-55],[1959,25],[1980,98],[1988,-30],[1996,40],
[2004,-10],[2012,60],[2036,-20],[2044,50],[2066,-73],[2074,30],[2082,65],
[2090,-15],[2098,40],[2122,70],[2130,-30],[2154,55],[2162,-40],
[2170,20],[2178,80],[2202,-55],[2210,10],[2218,146],[2234,-20],[2242,60],
[2250,-35],[2258,15],[2276,-107],[2284,30],[2308,-40],[2316,20],
[2333,122],[2341,-25],[2365,10],[2373,70],[2397,-5],[2405,60],
[2413,-45],[2421,35],[2445,-55],[2456,-89],[2480,-20],[2488,40],
[2496,-35],[2504,65],[2528,-50],[2536,85],[2560,-40],[2568,20],
[2576,60],[2584,-25],[2602,-94],[2610,15],[2642,-15],[2650,25],
[2658,-45],[2666,65],[2690,-35],[2698,80],[2722,-55],[2736,106],
[2744,10],[2752,-40],[2776,35],[2784,-60],[2808,-25],[2816,45],
[2824,-45],[2832,15],[2856,40],[2864,-5],[2888,20],[2896,55],
[2908,-136],[2916,30],[2940,-35],[2948,45],[2966,114],[2974,-15],[2985,-67],
[2992,40],[2998,-30]
];

// binned flux before transit (days, ppm): squares in panel 2, circles in panel 3
const preT = [-0.312,-0.326,-0.341,-0.357,-0.367,-0.381,-0.397,-0.407,-0.421,-0.439,-0.450,-0.463,-0.480,-0.488,-0.504,-0.520,-0.528,-0.544,-0.560,-0.569,-0.583,-0.600,-0.610,-0.626,-0.642,-0.651,-0.667,-0.683,-0.692,-0.706,-0.723,-0.732,-0.748,-0.764,-0.773,-0.788,-0.804,-0.814,-0.829,-0.845,-0.854,-0.869,-0.884,-0.894,-0.910,-0.926,-0.935,-0.951,-0.965,-0.973,-0.992];
const preF = [-20,1,-74,-39,34,29,-69,-6,2,-8,-116,-63,-31,36,-49,-53,-15,48,-6,-46,32,-10,7,-101,-33,-9,-24,-34,51,-63,-97,7,-61,12,-60,-14,60,-18,-33,23,39,59,8,64,7,-8,2,-43,67,4,21];

// binned flux after transit (days, ppm): squares in panel 2, grey squares in panel 3
const postT = [0.311,0.318,0.335,0.348,0.357,0.374,0.381,0.397,0.412,0.421,0.436,0.450,0.461,0.476,0.484,0.500,0.515,0.522,0.539,0.549,0.561,0.577,0.586,0.600,0.617,0.625,0.641,0.649,0.664,0.679,0.688,0.704,0.716,0.726,0.742,0.751,0.766,0.782,0.789,0.804,0.817,0.828,0.844,0.854,0.867,0.882,0.893,0.908,0.924,0.932,0.948,0.964,0.971,0.988];
const postF = [-17,-22,-28,-99,-12,0,-25,-29,-87,-13,-74,-42,-93,-48,-16,-31,-30,-66,-65,7,-2,-31,-7,-31,-40,-35,-1,-23,-20,-57,42,-68,-71,28,-23,-52,-30,-59,32,35,-31,-21,-29,-30,-79,24,-30,3,-42,49,15,-4,3,-67];

// model pieces (days, ppm)
const midT = [0, 0];               // transit centre line, panel 1
const windowT = [-0.3, 0.3];       // transit window, panel 1
const modelPreT = [-0.857, -0.3, -0.3];
const modelPreF = [0, -33, -200];
const modelPostT = [0.3, 0.3, 0.982];
const modelPostF = [-200, -41, 0];
const modelPost3T = [0.3, 0.3, 0.955];
const modelPost3F = [-200, -41, -1];
const fitT = [0.31, 0.45, 0.60, 0.77, 0.95];
const fitF = [-29, -30, -27, -16, -1];

// ranges
const y1Min = 0.9992, y1Max = 1.0005;
const y2Min = 0.9998, y2Max = 1.0002;

Chart.defaults.font.family = 'Lato, "Open Sans", sans-serif';
Chart.defaults.font.size = 15;
Chart.defaults.color = '#000';

const flux = ppm => 1 + ppm / 1e6;
const fromPairs = list => list.map(p => ({ x: p[0] / 1000, y: flux(p[1]) }));
const fromArrays = (ts, fs, sign) => ts.map((t, i) => ({ x: sign * t, y: flux(fs[i]) }));
const vline = (x, lo, hi) => [{ x: x, y: lo }, { x: x, y: hi }];

// top panel: both wide sets; middle panel: everything outside the transit window
const wideRaw = rawWide.concat(rawWideB);
const outOfTransit = wideRaw.concat(rawZoom).filter(p => Math.abs(p[0]) >= 300);

const axisGray = '#868686';

function eixoX(min, max, ticks) {
    return {
        type: 'linear', min: min, max: max,
        afterBuildTicks: s => { s.ticks = ticks.map(v => ({ value: v })); },
        afterFit: s => { s.height = 57; s.paddingLeft = 0; s.paddingRight = 0; },
        grid: { drawOnChartArea: false, drawTicks: true, tickLength: 5, color: axisGray },
        border: { color: axisGray },
        ticks: { padding: 9, maxRotation: 0, callback: v => String(+v.toFixed(2)) },
        title: { display: true, text: 'Time from mid-transit (days)', font: { weight: 'bold', size: 16 }, padding: 0 }
    };
}

function eixoY(min, max, ticks) {
    return {
        type: 'linear', min: min, max: max,
        afterBuildTicks: s => { s.ticks = ticks.map(v => ({ value: v })); },
        afterFit: s => { s.width = 96; s.paddingTop = 0; s.paddingBottom = 0; },
        grid: { drawOnChartArea: false, drawTicks: true, tickLength: 6, color: axisGray },
        border: { color: axisGray },
        ticks: { padding: 10, callback: v => v.toFixed(4) },
        title: { display: true, text: 'Normalized Flux', font: { weight: 'bold', size: 16 }, padding: { top: 9, bottom: 0 } }
    };
}

// box round the plot area
const moldura = {
    id: 'moldura',
    afterDraw(chart) {
        const a = chart.chartArea, c = chart.ctx;
        c.save();
        c.strokeStyle = axisGray;
        c.lineWidth = 1;
        c.strokeRect(Math.round(a.left) + 0.5, Math.round(a.top) + 0.5, Math.round(a.right - a.left) - 1, Math.round(a.bottom - a.top) - 1);
        c.restore();
    }
};

function opcoes(pad, x, y) {
    return {
        responsive: false,
        animation: false,
        layout: { padding: pad },
        plugins: { legend: { display: false }, tooltip: { enabled: false } },
        scales: { x: x, y: y }
    };
}

const linha = (data, color, width, dash, order, extra) => Object.assign({
    data: data, showLine: true, pointRadius: 0, borderColor: color, borderWidth: width,
    borderDash: dash, fill: false, order: order
}, extra || {});

// panel 1
new Chart(document.getElementById('grafico1'), {
    type: 'scatter',
    data: {
        datasets: [
            { data: fromPairs(binWide), pointStyle: 'rect', pointRadius: 3.8, backgroundColor: '#000', borderColor: '#fff', borderWidth: 1, order: 0 },
            linha(vline(windowT[0], y1Min, y1Max), '#7f7f7f', 2, [], 1),
            linha(vline(windowT[1], y1Min, y1Max), '#7f7f7f', 2, [], 1),
            { data: fromPairs(wideRaw), pointRadius: 2.6, backgroundColor: '#c0c0c0', borderWidth: 0, order: 2 },
            linha(vline(midT[0], y1Min, y1Max), '#000', 2, [], 3)
        ]
    },
    options: opcoes({ left: 0, right: 12, top: 5, bottom: 15 }, eixoX(-3, 3, xTicks1), eixoY(y1Min, y1Max, yTicks1)),
    plugins: [moldura]
});

// panel 2
const passo = c => c.p0DataIndex === 0 ? [6, 3] : [];
const passoPos = c => c.p0DataIndex === 1 ? [6, 3] : [];
new Chart(document.getElementById('grafico2'), {
    type: 'scatter',
    data: {
        datasets: [
            { data: fromArrays(preT, preF, 1), pointStyle: 'rect', pointRadius: 5.1, backgroundColor: '#000', borderColor: '#fff', borderWidth: 0.6, order: 0 },
            { data: fromArrays(postT, postF, 1), pointStyle: 'rect', pointRadius: 5.1, backgroundColor: '#000', borderColor: '#fff', borderWidth: 0.6, order: 0 },
            linha(fromArrays(modelPreT, modelPreF, 1), '#000', 2, [], 1, { segment: { borderDash: passo } }),
            linha(fromArrays(modelPostT, modelPostF, 1), '#000', 2, [], 1, { segment: { borderDash: passoPos } }),
            { data: fromPairs(outOfTransit), pointRadius: 2.2, backgroundColor: '#c0c0c0', borderWidth: 0, order: 2 }
        ]
    },
    options: opcoes({ left: 0, right: 12, top: 27, bottom: 3 }, eixoX(-1, 1, xTicks2), eixoY(y2Min, y2Max, yTicks23)),
    plugins: [moldura]
});

// panel 3
new Chart(document.getElementById('grafico3'), {
    type: 'scatter',
    data: {
        datasets: [
            { data: fromArrays(postT, postF, 1), pointStyle: 'rect', pointRadius: 4.8, backgroundColor: '#878787', borderColor: '#fff', borderWidth: 0.6, order: 0 },
            { data: fromArrays(preT, preF, -1), pointStyle: 'circle', pointRadius: 3.3, backgroundColor: '#000', borderWidth: 0, order: 1 },
            linha(fromArrays(fitT, fitF, 1), '#000', 2.5, [1.5, 3.5], 2, { cubicInterpolationMode: 'monotone' }),
            linha(fromArrays(modelPost3T, modelPost3F, 1), '#000', 2, [], 2, { segment: { borderDash: passoPos } })
        ]
    },
    options: opcoes({ left: 0, right: 12, top: 40, bottom: 0 }, eixoX(0, 1, xTicks3), eixoY(y2Min, y2Max, yTicks23)),
    plugins: [moldura]
});
</script>
</body>
</html>
